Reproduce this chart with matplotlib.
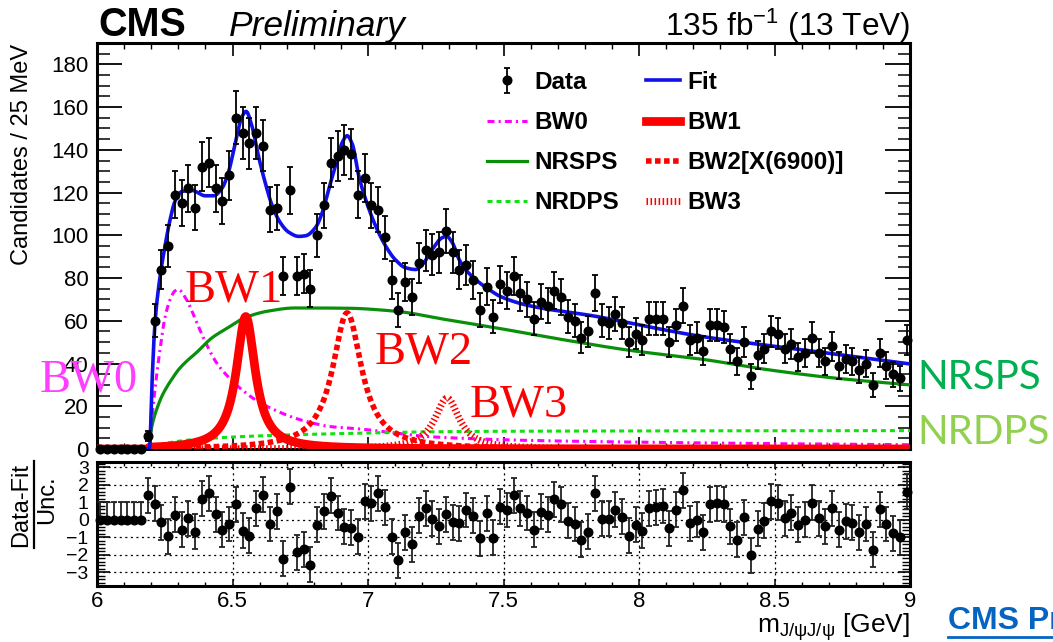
import numpy as np
import matplotlib
matplotlib.use("Agg")
import matplotlib.pyplot as plt
from matplotlib.lines import Line2D
from matplotlib.ticker import MultipleLocator, FuncFormatter

plt.rcParams['font.family'] = ['Liberation Sans', 'DejaVu Sans']
plt.rcParams['mathtext.fontset'] = 'custom'
plt.rcParams['mathtext.rm'] = 'Liberation Sans'
plt.rcParams['mathtext.it'] = 'Liberation Sans:italic'
plt.rcParams['mathtext.bf'] = 'Liberation Sans:bold'
plt.rcParams['lines.scale_dashes'] = False

# ---------------- data ----------------
mass_lo, mass_hi = 6.0, 9.0
bin_width = 0.025
threshold = 6.194  # 2 m(J/psi)

counts = [0, 0, 0, 0, 0, 0, 0, 6, 60, 84,
          95, 119, 115, 122, 113, 132, 134, 122, 116, 128,
          155, 148, 143, 148, 142, 112, 113, 81, 121, 81,
          82, 75, 100, 114, 134, 137, 140, 138, 119, 127,
          114, 112, 99, 79, 65, 78, 71, 87, 93, 91,
          92, 102, 92, 84, 86, 79, 65, 76, 62, 77,
          74, 81, 73, 70, 61, 69, 67, 74, 71, 62,
          60, 52, 55, 73, 60, 59, 63, 59, 50, 54,
          51, 61, 61, 61, 50, 58, 67, 51, 52, 46,
          58, 58, 57, 47, 41, 50, 34, 44, 47, 55,
          54, 47, 49, 43, 45, 52, 45, 41, 48, 39,
          42, 41, 37, 40, 30, 45, 39, 35, 33, 51]

pulls = [0, 0, 0, 0, 0, 0, 0, 1.4, 0.9, -0.15,
         -0.95, 0.27, -0.57, 0.09, -0.68, 1.21, 1.5, 0.32, -0.57, -0.25,
         0.89, -0.63, -0.91, 0.64, 1.42, -0.25, 0.47, -2.24, 1.88, -1.86,
         -1.7, -2.58, -0.3, 0.47, 1.36, 0.38, -0.4, -0.47, -0.98, 1.04,
         0.95, 1.5, 0.7, -0.97, -2.33, -0.72, -1.42, 0.23, 0.64, 0.04,
         -0.38, 0.32, -0.15, -0.2, 0.55, 0.23, -1.06, 0.36, -1.04, 0.74,
         0.55, 1.4, 0.64, 0.38, -0.57, 0.45, 0.28, 1.17, 0.89, -0.06,
         -0.25, -1.14, -0.68, 1.5, 0.04, 0.04, 0.57, 0.17, -0.91, -0.3,
         -0.63, 0.66, 0.72, 0.78, -0.49, 0.57, 1.69, -0.2, 0.0, -0.72,
         0.89, 0.93, 0.89, -0.38, -1.14, 0.13, -2.05, -0.53, -0.06, 1.04,
         0.98, 0.09, 0.4, -0.3, 0.0, 0.98, 0.09, -0.38, 0.64, -0.57,
         -0.09, -0.17, -0.72, -0.25, -1.72, 0.6, -0.25, -0.78, -1.0, 1.59]

# total fit (knots along the curve)
fit_m = [6.0, 6.194, 6.202, 6.214, 6.233, 6.251, 6.27, 6.288, 6.313, 6.35,
         6.40, 6.43, 6.461, 6.485, 6.51, 6.535, 6.55, 6.572, 6.596, 6.621,
         6.646, 6.676, 6.707, 6.744, 6.77, 6.806, 6.831, 6.855, 6.88, 6.905,
         6.923, 6.942, 6.966, 6.991, 7.028, 7.065, 7.10, 7.139, 7.176, 7.206,
         7.237, 7.274, 7.29, 7.311, 7.336, 7.36, 7.397, 7.447, 7.49, 7.594,
         7.84, 8.088, 8.229, 8.599, 9.0]
fit_y = [0, 0, 28, 59, 81, 95, 107.5, 116, 120.5, 121,
         118.5, 118.5, 122, 129.5, 143, 155.5, 158, 151, 137, 124.5,
         114, 106, 101.5, 99.5, 99.8, 103.6, 110.6, 121.6, 132.5, 143.5,
         146.6, 142.7, 127.8, 116.9, 104.4, 95, 88.7, 84.8, 84, 87.2,
         93.4, 98.9, 99.5, 96.6, 88.7, 84, 79.3, 74.6, 71.3, 67.1,
         62.1, 55.9, 52.7, 46.5, 39.8]

# non-resonant single-parton scattering
nrsps_m = [6.0, 6.194, 6.197, 6.202, 6.21, 6.22, 6.239, 6.26, 6.28, 6.30,
           6.33, 6.366, 6.424, 6.48, 6.547, 6.63, 6.73, 6.917, 7.10, 7.286,
           7.49, 7.718, 7.964, 8.244, 8.476, 8.722, 9.0]
nrsps_y = [0, 0, 6.3, 10.3, 14.5, 18.5, 24.6, 29.5, 33.4, 37,
           41, 45, 52, 56.5, 61.5, 64.5, 66, 65.9, 64.5, 60.6,
           56.3, 51.2, 46.2, 41.8, 37.1, 33.2, 30]

# non-resonant double-parton scattering
nrdps_m = [6.0, 6.194, 6.22, 6.26, 6.34, 6.5, 6.71, 7.0, 7.2, 7.5, 8.2, 9.0]
nrdps_y = [0, 0, 1.5, 2.8, 4.2, 5.6, 6.6, 7.5, 8.0, 8.3, 8.5, 8.6]

# BW0 component
bw0_m = [6.0, 6.194, 6.197, 6.214, 6.233, 6.25, 6.27, 6.288, 6.30, 6.33,
         6.362, 6.40, 6.443, 6.49, 6.535, 6.597, 6.66, 6.732, 6.80, 6.86,
         6.96, 7.1, 7.2, 7.35, 7.6, 8.0, 8.5, 9.0]
bw0_y = [0, 0, 6, 28, 47, 61, 70, 74, 74.6, 70,
         61, 50, 40, 33, 27.7, 22, 18, 14.4, 12, 10.5,
         9.5, 7.5, 6, 5, 4, 3.2, 2.5, 2]

# Breit-Wigner resonances: (mass, width, peak height)
bw1_par = (6.549, 0.085, 62.0)
bw2_par = (6.923, 0.13, 63.7)
bw3_par = (7.292, 0.11, 23.8)


def pchip(xk, yk, x):
    xk = np.asarray(xk, float)
    yk = np.asarray(yk, float)
    h = np.diff(xk)
    d = np.diff(yk) / h
    n = len(xk)
    s = np.zeros(n)
    for k in range(1, n - 1):
        if d[k - 1] * d[k] > 0:
            w1 = 2 * h[k] + h[k - 1]
            w2 = h[k] + 2 * h[k - 1]
            s[k] = (w1 + w2) / (w1 / d[k - 1] + w2 / d[k])
    s[0], s[-1] = d[0], d[-1]
    idx = np.clip(np.searchsorted(xk, x) - 1, 0, n - 2)
    t = (x - xk[idx]) / h[idx]
    h00 = 2 * t**3 - 3 * t**2 + 1
    h10 = t**3 - 2 * t**2 + t
    h01 = -2 * t**3 + 3 * t**2
    h11 = t**3 - t**2
    return (h00 * yk[idx] + h10 * h[idx] * s[idx]
            + h01 * yk[idx + 1] + h11 * h[idx] * s[idx + 1])


def breit_wigner(m, par):
    mass, width, height = par
    y = height / (1.0 + ((m - mass) / (width / 2.0)) ** 2)
    return np.where(m >= threshold, y, 0.0)


centers = mass_lo + bin_width * (np.arange(len(counts)) + 0.5)
counts_a = np.asarray(counts, float)
errs = np.sqrt(counts_a)
grid = np.linspace(mass_lo, mass_hi, 1501)

# ---------------- figure ----------------
W, H = 1053, 642
fig = plt.figure(figsize=(W / 100, H / 100), dpi=100)
ax = fig.add_axes([97 / W, 1 - 449 / H, 813 / W, 406 / H])
axr = fig.add_axes([97 / W, 1 - 586 / H, 813 / W, 124 / H])

red = '#FF0000'
l_bw0, = ax.plot(grid, pchip(bw0_m, bw0_y, grid), color='#FF00FF', lw=2.2,
                 dashes=[5, 3, 1.5, 3], zorder=3)
l_nrsps, = ax.plot(grid, pchip(nrsps_m, nrsps_y, grid), color='#0A8F0A',
                   lw=2.3, zorder=3)
l_nrdps, = ax.plot(grid, pchip(nrdps_m, nrdps_y, grid), color='#11E011',
                   lw=2.2, dashes=[3.6, 2.9], zorder=3)
l_bw1, = ax.plot(grid, breit_wigner(grid, bw1_par), color=red, lw=6.3,
                 zorder=4)
l_bw2, = ax.plot(grid, breit_wigner(grid, bw2_par), color=red, lw=4.0,
                 dashes=[4, 2.5], zorder=4)
l_bw3, = ax.plot(grid, breit_wigner(grid, bw3_par), color=red, lw=5.0,
                 dashes=[1.1, 1.8], zorder=4)
l_fit, = ax.plot(grid, pchip(fit_m, fit_y, grid), color='#1010E8', lw=2.6,
                 zorder=5)

data = ax.errorbar(centers, counts_a, yerr=errs, fmt='o', color='black',
                   ms=6.2, elinewidth=1.3, capsize=2.0, capthick=1.3,
                   zorder=6, clip_on=False)

ax.set_xlim(mass_lo, mass_hi)
ax.set_ylim(0, 190)
ax.xaxis.set_major_locator(MultipleLocator(0.5))
ax.xaxis.set_minor_locator(MultipleLocator(0.1))
ax.yaxis.set_major_locator(MultipleLocator(20))
ax.yaxis.set_minor_locator(MultipleLocator(5))
ax.tick_params(which='both', direction='in', top=True, right=True,
               labelbottom=False, labelsize=16, pad=6)
ax.xaxis.set_tick_params(which='major', length=9, width=1.2)
ax.xaxis.set_tick_params(which='minor', length=4.5, width=1.0)
ax.yaxis.set_tick_params(which='major', length=18, width=1.3)
ax.yaxis.set_tick_params(which='minor', length=9, width=1.1)
for sp in ax.spines.values():
    sp.set_linewidth(2.2)

# legend, two columns
leg_font = {'weight': 'bold', 'size': 17.5}
leg1 = ax.legend([data, l_bw0, l_nrsps, l_nrdps],
                 ['Data', 'BW0', 'NRSPS', 'NRDPS'],
                 loc='upper left', bbox_to_anchor=(487 / W, 1 - 71 / H),
                 bbox_transform=fig.transFigure, frameon=False, prop=leg_font,
                 borderpad=0, borderaxespad=0, handlelength=1.65,
                 handletextpad=0.3, labelspacing=0.70)
ax.add_artist(leg1)
ax.legend([l_fit, l_bw1, l_bw2, l_bw3],
          ['Fit', 'BW1', 'BW2[X(6900)]', 'BW3'],
          loc='upper left', bbox_to_anchor=(646 / W, 1 - 71 / H),
          bbox_transform=fig.transFigure, frameon=False, prop=leg_font,
          borderpad=0, borderaxespad=0, handlelength=1.38,
          handletextpad=0.33, labelspacing=0.70)

# residual panel
pulls_a = np.asarray(pulls, float)
lower = np.where(counts_a > 0, 1.0, 0.0)
axr.errorbar(centers, pulls_a, yerr=[lower, np.ones_like(pulls_a)], fmt='o',
             color='black', ecolor='#222222', ms=6.2, elinewidth=1.3,
             capsize=2.0, capthick=1.3, zorder=6, clip_on=False)
axr.set_xlim(mass_lo, mass_hi)
axr.set_ylim(-3.8, 3.3)
axr.xaxis.set_major_locator(MultipleLocator(0.5))
axr.xaxis.set_minor_locator(MultipleLocator(0.1))
axr.xaxis.set_major_formatter(FuncFormatter(lambda v, p: f'{v:g}'))
axr.yaxis.set_major_locator(MultipleLocator(1))
axr.yaxis.set_minor_locator(MultipleLocator(0.2))
axr.set_yticks([-3, -2, -1, 0, 1, 2, 3])
axr.tick_params(which='both', direction='in', top=True, right=True)
axr.tick_params(axis='x', labelsize=16, pad=3.5)
axr.tick_params(axis='y', labelsize=14, pad=6)
axr.xaxis.set_tick_params(which='major', length=5, width=1.1)
axr.xaxis.set_tick_params(which='minor', length=3, width=1.0)
axr.yaxis.set_tick_params(which='major', length=9, width=1.2)
axr.yaxis.set_tick_params(which='minor', length=5.5, width=1.0)
for yv in [-3, -2, -1, 0, 1, 2, 3]:
    axr.axhline(yv, color='black', lw=0.9, ls=(0, (1.5, 2.5)), zorder=1)
for xv in [6.5, 7.0, 7.5, 8.0, 8.5]:
    axr.axvline(xv, color='black', lw=0.9, ls=(0, (1.5, 2.5)), zorder=1)
for sp in axr.spines.values():
    sp.set_linewidth(2.2)

# axis titles
fig.text(22 / W, 1 - 44 / H, 'Candidates / 25 MeV', rotation=90,
         ha='center', va='top', fontsize=17)
# residual title drawn as a stacked fraction
fig.text(21 / W, 1 - 505 / H, 'Data-Fit', rotation=90,
         ha='center', va='center', fontsize=17)
fig.add_artist(Line2D([33.5 / W, 33.5 / W], [1 - 461 / H, 1 - 548 / H],
                      transform=fig.transFigure, color='black', lw=1.6))
fig.text(47 / W, 1 - 500 / H, 'Unc.', rotation=90,
         ha='center', va='center', fontsize=17)
fig.text(910 / W, 1 - 633 / H, r'm$_{\mathrm{J/\psi J/\psi}}$ [GeV]',
         ha='right', va='baseline', fontsize=19)

# header
fig.text(98 / W, 1 - 36 / H, 'CMS', ha='left', va='baseline',
         fontsize=28.5, fontweight='bold')
fig.text(229 / W, 1 - 36 / H, 'Preliminary', ha='left', va='baseline',
         fontsize=25.5, fontstyle='italic')
fig.text(910 / W, 1 - 36 / H, r'135 fb$^{-1}$ (13 TeV)', ha='right',
         va='baseline', fontsize=22.7)

# component labels
serif = ['Liberation Serif', 'DejaVu Serif']
fig.text(40 / W, 1 - 380 / H, 'BW0', color='#FF3EFF', family=serif,
         fontsize=33.5, ha='left', va='center')
fig.text(185 / W, 1 - 290 / H, 'BW1', color=red, family=serif,
         fontsize=33.5, ha='left', va='center')
fig.text(375 / W, 1 - 352 / H, 'BW2', color=red, family=serif,
         fontsize=33.5, ha='left', va='center')
fig.text(470 / W, 1 - 405 / H, 'BW3', color=red, family=serif,
         fontsize=33.5, ha='left', va='center')
side = ['Lato', 'DejaVu Sans']
fig.text(917 / W, 1 - 378 / H, 'NRSPS', color='#00B050', family=side,
         fontsize=29, ha='left', va='center')
fig.text(917 / W, 1 - 433 / H, 'NRDPS', color='#92D050', family=side,
         fontsize=29, ha='left', va='center')

# link at the bottom right
fig.text(948 / W, 1 - 621 / H, 'CMS Preliminary', color='#0563C1',
         fontsize=23, fontweight='bold', ha='left', va='center')
fig.add_artist(Line2D([948 / W, 1.0], [1 - 637 / H, 1 - 637 / H],
                      transform=fig.transFigure, color='#0563C1', lw=2))

fig.savefig('out.png', dpi=100)
